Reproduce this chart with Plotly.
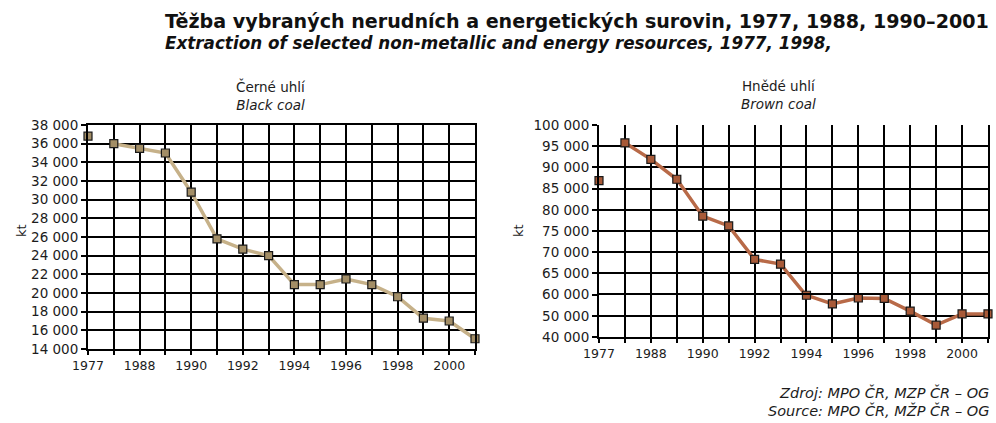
import plotly.graph_objects as go

# Years on the category axis (only every other one is labelled)
years = ["1977", "1985", "1988", "1989", "1990", "1991", "1992", "1993",
         "1994", "1995", "1996", "1997", "1998", "1999", "2000", "2001"]
year_labels = ["1977", "", "1988", "", "1990", "", "1992", "", "1994", "",
               "1996", "", "1998", "", "2000", ""]

# Extraction, kt
black_coal = [36800, 36000, 35500, 35000, 30800, 25800, 24700, 24000,
              20900, 20900, 21500, 20900, 19600, 17300, 17000, 15100]
brown_coal = [86900, 95800, 91900, 87200, 78500, 76200, 68300, 67200,
              59700, 55600, 58400, 58200, 52200, 45600, 50900, 50900]

# Brown coal axis is drawn in two linear pieces: 5 000 steps above 60 000,
# 10 000 steps below it
brown_upper_ticks = [65000, 70000, 75000, 80000, 85000, 90000, 95000, 100000]
brown_lower_ticks = [40000, 50000, 60000]

W, H = 996, 423
FONT = "DejaVu Sans"
GRID = "#000000"
TEXT = "#1c1c1c"

black_line = "#c6b189"
black_marker = "#a38e66"
brown_line = "#b86a48"
brown_marker = "#a85a38"


def px_x(p):
    return p / W


def px_y(p):
    return 1 - p / H


fig = go.Figure()

# ---- Black coal ----
fig.add_trace(go.Scatter(
    x=years[1:], y=black_coal[1:], mode="lines",
    line=dict(color=black_line, width=3.5), xaxis="x", yaxis="y",
    hoverinfo="skip"))
fig.add_trace(go.Scatter(
    x=years, y=black_coal, mode="markers", cliponaxis=False,
    marker=dict(symbol="square", size=8, color=black_marker,
                line=dict(color="#1a1a1a", width=1.2)),
    xaxis="x", yaxis="y"))

# ---- Brown coal (upper and lower pieces of the split axis) ----
for yax, lo, hi in (("y2", 60000, 100000), ("y3", 40000, 60000)):
    fig.add_trace(go.Scatter(
        x=years[1:], y=brown_coal[1:], mode="lines",
        line=dict(color=brown_line, width=3.5), xaxis="x2", yaxis=yax,
        hoverinfo="skip"))
    pts = [(c, v) for c, v in zip(years, brown_coal)
           if (v >= lo if yax == "y2" else lo <= v < hi)]
    fig.add_trace(go.Scatter(
        x=[c for c, _ in pts], y=[v for _, v in pts], mode="markers",
        cliponaxis=False,
        marker=dict(symbol="square", size=8, color=brown_marker,
                    line=dict(color="#1a1a1a", width=1.2)),
        xaxis="x2", yaxis=yax))

xcommon = dict(
    type="category", categoryorder="array", categoryarray=years,
    range=[0, len(years) - 1], tickmode="array", tickvals=years,
    ticktext=year_labels, ticks="outside", ticklen=4, tickwidth=2,
    tickcolor=GRID, showgrid=True, gridcolor=GRID, gridwidth=2,
    showline=True, linecolor=GRID, linewidth=2, mirror=True,
    tickfont=dict(family=FONT, size=12.5, color=TEXT),
    automargin=False, fixedrange=True,
)
ycommon = dict(
    ticks="outside", ticklen=5, tickwidth=2, tickcolor=GRID,
    showgrid=True, gridcolor=GRID, gridwidth=2, showline=True,
    linecolor=GRID, linewidth=2, mirror=True, tickformat=",d",
    tickfont=dict(family=FONT, size=13.5, color=TEXT), zeroline=False,
    automargin=False, fixedrange=True,
)

top, bottom_left = 125, 349
step = 21.2
split = top + 8 * step
bottom_right = split + 2 * step

fig.update_layout(
    width=W, height=H, margin=dict(l=0, r=0, t=0, b=0),
    paper_bgcolor="white", plot_bgcolor="white", showlegend=False,
    separators=", ",
    xaxis=dict(xcommon, domain=[px_x(88), px_x(475)], anchor="y"),
    yaxis=dict(ycommon, domain=[px_y(bottom_left), px_y(top)],
               range=[14000, 38000], dtick=2000, anchor="x"),
    xaxis2=dict(xcommon, domain=[px_x(599), px_x(988)], anchor="y3"),
    yaxis2=dict(ycommon, domain=[px_y(split), px_y(top)],
                range=[60000, 100000], tickmode="array",
                tickvals=brown_upper_ticks, anchor="x2"),
    yaxis3=dict(ycommon, domain=[px_y(bottom_right), px_y(split)],
                range=[40000, 60000], tickmode="array",
                tickvals=brown_lower_ticks, anchor="x2"),
)


def note(text, x, y, size=12.5, xanchor="center", angle=0, color=TEXT,
         **font):
    fig.add_annotation(
        text=text, x=px_x(x), y=px_y(y), xref="paper", yref="paper",
        xanchor=xanchor, yanchor="middle", showarrow=False, textangle=angle,
        font=dict(family=FONT, size=size, color=color, **font))


# Titles
note("Těžba vybraných nerudních a energetických surovin, 1977, 1988, 1990–2001",
     163, 22, size=19.1, xanchor="left", weight="bold", color="#111")
note("Extraction of selected non-metallic and energy resources, 1977, 1998,",
     163, 43, size=16.8, xanchor="left", weight="bold", style="italic",
     color="#111")

# Panel headings (Czech / English)
note("Černé uhlí<br><i>Black coal</i>", 271, 95, size=13.5)
note("Hnědé uhlí<br><i>Brown coal</i>", 778, 95, size=13.5)

# Unit labels
note("kt", 21, 231, size=13, angle=-90)
note("kt", 518, 231, size=13, angle=-90)

# Source
note("Zdroj: MPO ČR, MZP ČR – OG", 991, 392, size=14.5, xanchor="right",
     style="italic")
note("Source: MPO ČR, MŽP ČR – OG", 991, 410, size=14.5, xanchor="right",
     style="italic")

fig.write_html("out.html")
